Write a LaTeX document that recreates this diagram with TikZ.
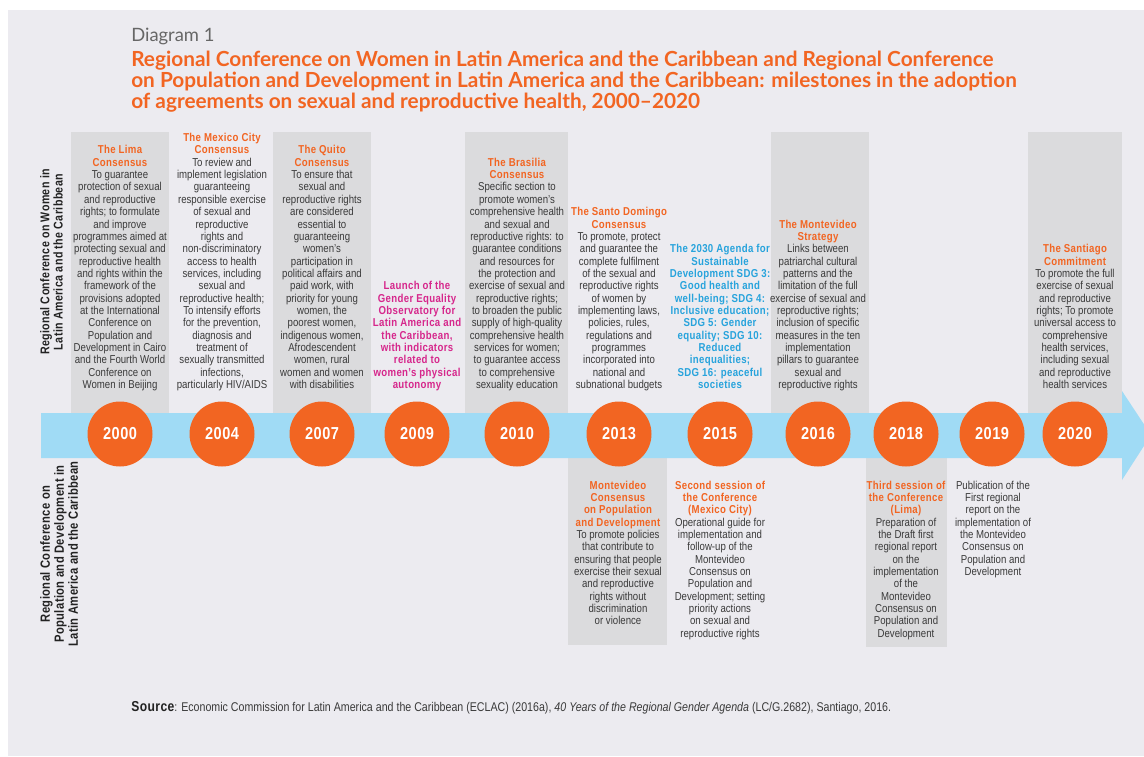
\documentclass[tikz,border=0pt]{standalone}
\usepackage{fontspec}
\setmainfont{Liberation Sans}
\newfontfamily\cond[FakeStretch=0.84,BoldFeatures={LetterSpace=3}]{Liberation Sans}
\newfontfamily\headfont{Lato}

\definecolor{bgc}{HTML}{ECEBF0}
\definecolor{boxc}{HTML}{DBDBDD}
\definecolor{bandc}{HTML}{A0DBF5}
\definecolor{orgc}{HTML}{F26522}
\definecolor{txtc}{HTML}{3A3A3A}
\definecolor{magc}{HTML}{D6278C}
\definecolor{bluec}{HTML}{27A3DC}
\definecolor{lblc}{HTML}{222222}
\definecolor{dgc}{HTML}{666666}

% orange heading line inside a milestone text
\newcommand{\hd}[1]{{\bfseries\color{orgc}#1}}

\tikzset{
  body/.style={font=\cond\fontsize{8.6}{9.26}\selectfont, text=txtc, align=center,
    inner sep=0pt, execute at begin node=\strut, execute at end node=\strut},
  up/.style={body, anchor=south},
  down/.style={body, anchor=north},
  hilite/.style={body, anchor=south, font=\cond\bfseries\fontsize{8.6}{9.26}\selectfont},
  yr/.style={circle, fill=orgc, minimum size=48.75pt, inner sep=0pt, text=white,
    font=\cond\bfseries\fontsize{13}{13}\selectfont},
  side/.style={rotate=90, align=center, text=lblc, inner sep=0pt},
  colbox/.style={fill=boxc},
}

\begin{document}
\begin{tikzpicture}[x=0.75pt,y=-0.75pt]
\useasboundingbox (0,0) rectangle (1144,756);
\clip (0,0) rectangle (1144,756);
\fill[white] (0,0) rectangle (1144,756);
\fill[bgc] (8,10) rectangle (1144,756);

% heading
\node[anchor=base west, inner sep=0pt, text=dgc, font=\headfont\fontsize{13.8}{15}\selectfont]
  (diag) at (131,42) {Diagram 1};
\node[anchor=north west, inner sep=0pt, align=left, text=orgc,
  font=\headfont\bfseries\fontsize{15.6}{15.9}\selectfont, execute at begin node=\strut]
  (title) at (131,50.3) {Regional Conference on Women in Latin America and the Caribbean and Regional Conference\\
  on Population and Development in Latin America and the Caribbean: milestones in the adoption\\
  of agreements on sexual and reproductive health, 2000–2020};

% shaded columns
\fill[colbox] (71,132) rectangle (169,436);
\fill[colbox] (273,132) rectangle (371,436);
\fill[colbox] (465,132) rectangle (568,436);
\fill[colbox] (771,132) rectangle (869,436);
\fill[colbox] (1028,132) rectangle (1122,436);
\fill[colbox] (568,436) rectangle (667,645);
\fill[colbox] (866,436) rectangle (947,647);

% timeline arrow
\fill[bandc] (41,413) -- (1122,413) -- (1122,391) -- (1151,435) -- (1122,480)
  -- (1122,458) -- (41,458) -- cycle;

% years
\node[yr] (y2000) at (120,434) {2000};
\node[yr] (y2004) at (222,434) {2004};
\node[yr] (y2007) at (322,434) {2007};
\node[yr] (y2009) at (417,434) {2009};
\node[yr] (y2010) at (517,434) {2010};
\node[yr] (y2013) at (619,434) {2013};
\node[yr] (y2015) at (720,434) {2015};
\node[yr] (y2016) at (818,434) {2016};
\node[yr] (y2018) at (906,434) {2018};
\node[yr] (y2019) at (992,434) {2019};
\node[yr] (y2020) at (1075,434) {2020};

% side labels
\node[side, font=\cond\bfseries\fontsize{9.5}{10}\selectfont] (lblw) at (51.5,262)
  {Regional Conference on Women in\\Latin America and the Caribbean};
\node[side, font=\cond\bfseries\fontsize{10}{10.5}\selectfont] (lblp) at (59,554)
  {Regional Conference on\\Population and Development in\\Latin America and the Caribbean};

% Regional Conference on Women
\node[up] (lima) at (120,392.5) {\hd{The Lima}\\\hd{Consensus}\\To guarantee\\protection of sexual\\and reproductive\\rights; to formulate\\and improve\\programmes aimed at\\protecting sexual and\\reproductive health\\and rights within the\\framework of the\\provisions adopted\\at the International\\Conference on\\Population and\\Development in Cairo\\and the Fourth World\\Conference on\\Women in Beijing};

\node[up] (mexico) at (222,392.5) {\hd{The Mexico City}\\\hd{Consensus}\\To review and\\implement legislation\\guaranteeing\\responsible exercise\\of sexual and\\reproductive\\rights and\\non-discriminatory\\access to health\\services, including\\sexual and\\reproductive health;\\To intensify efforts\\for the prevention,\\diagnosis and\\treatment of\\sexually transmitted\\infections,\\particularly HIV/AIDS};

\node[up] (quito) at (322,392.5) {\hd{The Quito}\\\hd{Consensus}\\To ensure that\\sexual and\\reproductive rights\\are considered\\essential to\\guaranteeing\\women’s\\participation in\\political affairs and\\paid work, with\\priority for young\\women, the\\poorest women,\\indigenous women,\\Afrodescendent\\women, rural\\women and women\\with disabilities};

\node[hilite, text=magc] (oig) at (417,392.5) {Launch of the\\Gender Equality\\Observatory for\\Latin America and\\the Caribbean,\\with indicators\\related to\\women’s physical\\autonomy};

\node[up] (brasilia) at (517,392.5) {\hd{The Brasilia}\\\hd{Consensus}\\Specific section to\\promote women’s\\comprehensive health\\and sexual and\\reproductive rights: to\\guarantee conditions\\and resources for\\the protection and\\exercise of sexual and\\reproductive rights;\\to broaden the public\\supply of high-quality\\comprehensive health\\services for women;\\to guarantee access\\to comprehensive\\sexuality education};

\node[up] (santodomingo) at (619,392.5) {\hd{The Santo Domingo}\\\hd{Consensus}\\To promote, protect\\and guarantee the\\complete fulfilment\\of the sexual and\\reproductive rights\\of women by\\implementing laws,\\policies, rules,\\regulations and\\programmes\\incorporated into\\national and\\subnational budgets};

\node[hilite, text=bluec] (agenda) at (720,392.5) {The 2030 Agenda for\\Sustainable\\Development SDG 3:\\Good health and\\well-being; SDG 4:\\Inclusive education;\\SDG 5: Gender\\equality; SDG 10:\\Reduced\\inequalities;\\SDG 16: peaceful\\societies};

\node[up] (strategy) at (818,392.5) {\hd{The Montevideo}\\\hd{Strategy}\\Links between\\patriarchal cultural\\patterns and the\\limitation of the full\\exercise of sexual and\\reproductive rights;\\inclusion of specific\\measures in the ten\\implementation\\pillars to guarantee\\sexual and\\reproductive rights};

\node[up] (santiago) at (1075,392.5) {\hd{The Santiago}\\\hd{Commitment}\\To promote the full\\exercise of sexual\\and reproductive\\rights; To promote\\universal access to\\comprehensive\\health services,\\including sexual\\and reproductive\\health services};

% Regional Conference on Population and Development
\node[down] (mvdconsensus) at (618,480.5) {\hd{Montevideo}\\\hd{Consensus}\\\hd{on Population}\\\hd{and Development}\\To promote policies\\that contribute to\\ensuring that people\\exercise their sexual\\and reproductive\\rights without\\discrimination\\or violence};

\node[down] (second) at (720,480.5) {\hd{Second session of}\\\hd{the Conference}\\\hd{(Mexico City)}\\Operational guide for\\implementation and\\follow-up of the\\Montevideo\\Consensus on\\Population and\\Development; setting\\priority actions\\on sexual and\\reproductive rights};

\node[down] (third) at (906,480.5) {\hd{Third session of}\\\hd{the Conference}\\\hd{(Lima)}\\Preparation of\\the Draft first\\regional report\\on the\\implementation\\of the\\Montevideo\\Consensus on\\Population and\\Development};

\node[down] (report) at (993,480.5) {Publication of the\\First regional\\report on the\\implementation of\\the Montevideo\\Consensus on\\Population and\\Development};

% source note
\node[anchor=base west, inner sep=0pt, text=txtc, font=\cond\fontsize{9.5}{11}\selectfont] (source) at (131,711)
  {{\bfseries\fontsize{10.8}{11}\selectfont\color{lblc}Source}: Economic Commission for Latin America and the Caribbean (ECLAC) (2016a), \textit{40 Years of the Regional Gender Agenda} (LC/G.2682), Santiago, 2016.};
\end{tikzpicture}
\end{document}
